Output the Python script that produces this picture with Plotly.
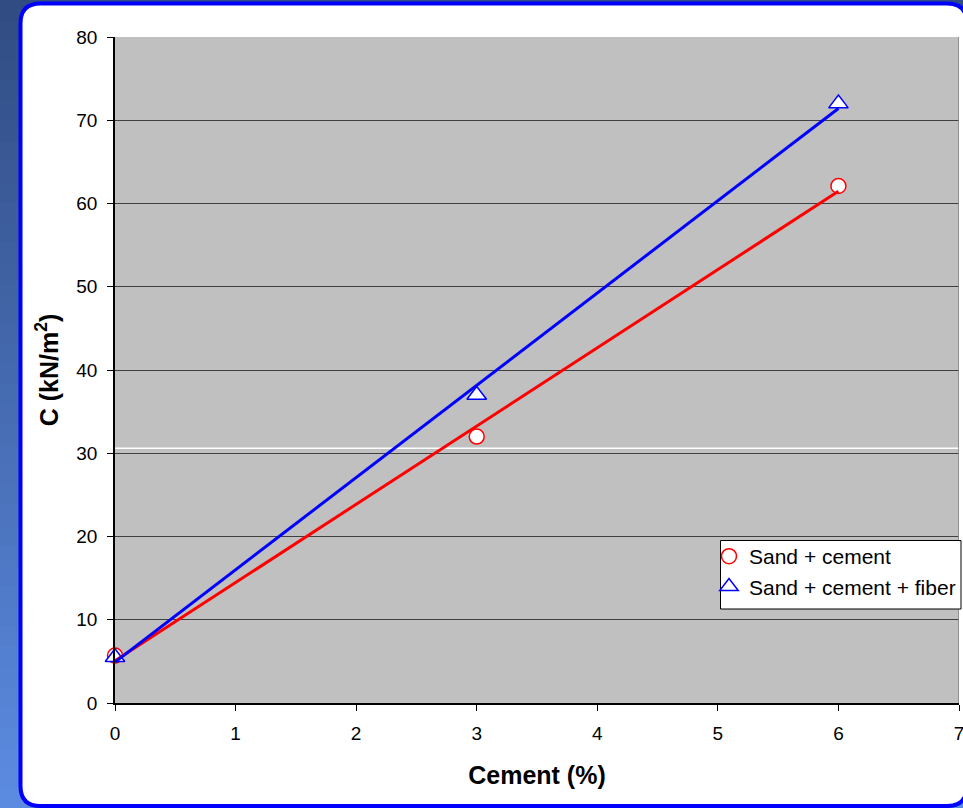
import numpy as np
import plotly.graph_objects as go

# Cohesion measured at each cement content
cement_pct = [0, 3, 6]
sand_cement = [5.7, 32.0, 62.1]
sand_cement_fiber = [5.5, 37.0, 72.0]

series_names = ["Sand + cement", "Sand + cement + fiber"]
x_ticks = [0, 1, 2, 3, 4, 5, 6, 7]
y_ticks = [0, 10, 20, 30, 40, 50, 60, 70, 80]

W, H = 963, 808
ML, MR, MT, MB = 115, 4, 37, 105
PW, PH = W - ML - MR, H - MT - MB


def px(x):
    return (x - ML) / PW


def py(y):
    return (H - MB - y) / PH


FONT = "Liberation Sans, Arial, sans-serif"

fig = go.Figure()

# Data points (open markers)
fig.add_trace(go.Scatter(
    x=cement_pct, y=sand_cement, mode="markers", name=series_names[0],
    legendgroup="a",
    marker=dict(symbol="circle", size=15, color="white",
                line=dict(color="#FF0000", width=1.5)),
    cliponaxis=False,
))
fig.add_trace(go.Scatter(
    x=cement_pct, y=sand_cement_fiber, mode="markers", name=series_names[1],
    legendgroup="b",
    marker=dict(symbol="triangle-up", size=17, color="white",
                line=dict(color="#0000FF", width=1.5)),
    cliponaxis=False,
))

# Linear trend lines fitted to each series
xs = np.array([cement_pct[0], cement_pct[-1]], dtype=float)
for vals, col in [(sand_cement, "#FF0000"), (sand_cement_fiber, "#0000FF")]:
    slope, intercept = np.polyfit(cement_pct, vals, 1)
    fig.add_trace(go.Scatter(
        x=xs, y=slope * xs + intercept, mode="lines", showlegend=False,
        line=dict(color=col, width=3), hoverinfo="skip", cliponaxis=False,
    ))

shapes = []
# Slide background gradient
c_top = np.array([0x31, 0x4C, 0x82])
c_bot = np.array([0x5C, 0x8C, 0xE2])
n = 40
for i in range(n):
    t = (i + 0.5) / n
    c = (c_top * (1 - t) + c_bot * t).astype(int)
    y0 = H * i / n
    y1 = H * (i + 1) / n + 1
    shapes.append(dict(type="rect", xref="paper", yref="paper",
                       x0=px(-5), x1=px(W + 5), y0=py(y0), y1=py(y1),
                       fillcolor="rgb(%d,%d,%d)" % tuple(c), line=dict(width=0),
                       layer="below"))

# White rounded panel with blue border
L, R, T, B, r = 20.5, 967, 3.5, 806, 20
pts = [
    ("M", [(L + r, T)]),
    ("L", [(R - r, T)]),
    ("Q", [(R, T), (R, T + r)]),
    ("L", [(R, B - r)]),
    ("Q", [(R, B), (R - r, B)]),
    ("L", [(L + r, B)]),
    ("Q", [(L, B), (L, B - r)]),
    ("L", [(L, T + r)]),
    ("Q", [(L, T), (L + r, T)]),
]
path = ""
for cmd, ps in pts:
    path += cmd + " ".join("%.5f,%.5f" % (px(a), py(b)) for a, b in ps)
path += "Z"
shapes.append(dict(type="path", xref="paper", yref="paper", path=path,
                   fillcolor="white", line=dict(color="#0000FF", width=4),
                   layer="below"))

# Grey plotting area
shapes.append(dict(type="rect", xref="paper", yref="paper",
                   x0=0, x1=1, y0=0, y1=1, fillcolor="#C0C0C0",
                   line=dict(width=0), layer="below"))

# Plot frame on the right side
shapes.append(dict(type="line", xref="x", yref="y", x0=7, x1=7, y0=0, y1=80,
                   line=dict(color="#808080", width=1.5)))
# Faint white rule just above the 30 gridline
shapes.append(dict(type="line", xref="paper", yref="y", x0=0, x1=1,
                   y0=30.6, y1=30.6, line=dict(color="white", width=1.5),
                   layer="below"))
# Legend frame
shapes.append(dict(type="rect", xref="paper", yref="paper",
                   x0=px(720.5), x1=px(961), y0=py(540.5), y1=py(609),
                   fillcolor="white", line=dict(color="black", width=1),
                   layer="above"))

fig.update_layout(
    width=W, height=H,
    margin=dict(l=ML, r=MR, t=MT, b=MB, pad=0, autoexpand=False),
    paper_bgcolor="#4568B0",
    plot_bgcolor="#C0C0C0",
    font=dict(family=FONT, color="black", size=19),
    shapes=shapes,
    showlegend=True,
    legend=dict(
        x=px(709), y=py(536), xanchor="left", yanchor="top",
        bgcolor="rgba(0,0,0,0)", borderwidth=0,
        font=dict(family=FONT, size=21, color="black"),
        itemwidth=30, tracegroupgap=10, traceorder="normal",
    ),
    xaxis=dict(
        range=[0, 7], tickvals=x_ticks, ticktext=[str(v) for v in x_ticks],
        showline=True, linecolor="black", linewidth=1.5,
        ticks="outside", ticklen=6, tickcolor="black", tickwidth=1,
        showgrid=False, zeroline=False, ticklabelstandoff=6, automargin=False,
        ticklabeloverflow="allow",
        title=dict(text="<b>Cement (%)</b>", font=dict(size=25), standoff=24),
    ),
    yaxis=dict(
        range=[0, 80], tickvals=y_ticks, ticktext=[str(v) for v in y_ticks],
        showline=True, linecolor="black", linewidth=1.5,
        ticks="outside", ticklen=6, tickcolor="black", tickwidth=1,
        showgrid=True, gridcolor="#404040", gridwidth=1, zeroline=False,
        ticklabelstandoff=6, automargin=False, ticklabeloverflow="allow",
        title=dict(text="<b>C (kN/m<sup>2</sup>)</b>", font=dict(size=25), standoff=11),
    ),
)

fig.write_html("out.html")
